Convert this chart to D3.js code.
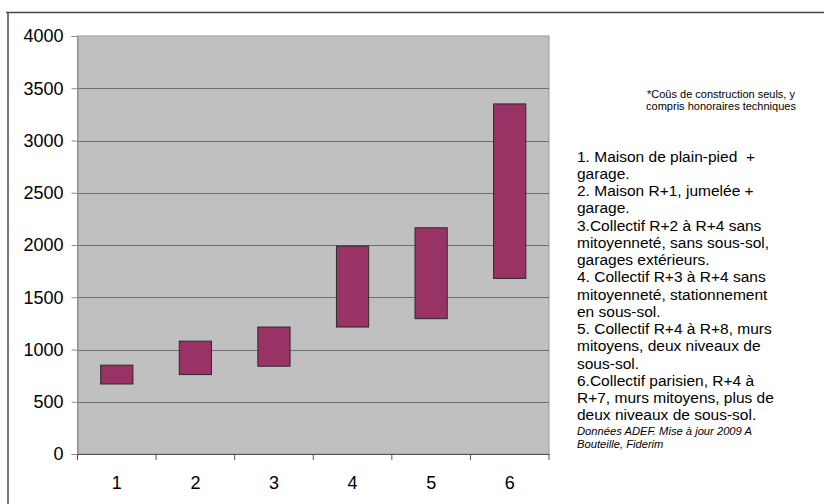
<!DOCTYPE html>
<meta charset="utf-8">
<style>
  body { margin: 0; background: #fff; }
  svg text { font-family: "Liberation Sans", Arial, sans-serif; fill: #000; white-space: pre; }
</style>
<div class="chart"></div>
<script src="https://cdn.jsdelivr.net/npm/d3@7"></script>
<script>
    // categories and cost ranges (low / high)
    var categories = ["1", "2", "3", "4", "5", "6"];
    var lowValues  = [670, 760, 840, 1215, 1295, 1680];
    var highValues = [850, 1080, 1215, 1990, 2165, 3350];
    var yTicks = [0, 500, 1000, 1500, 2000, 2500, 3000, 3500, 4000];

    var legendLines = [
        "1. Maison de plain-pied  +",
        "garage.",
        "2. Maison R+1, jumelée +",
        "garage.",
        "3.Collectif R+2 à R+4 sans",
        "mitoyenneté, sans sous-sol,",
        "garages extérieurs.",
        "4. Collectif R+3 à R+4 sans",
        "mitoyenneté, stationnement",
        "en sous-sol.",
        "5. Collectif R+4 à R+8, murs",
        "mitoyens, deux niveaux de",
        "sous-sol.",
        "6.Collectif parisien, R+4 à",
        "R+7, murs mitoyens, plus de",
        "deux niveaux de sous-sol."
    ];
    var noteLines = ["*Coûs de construction seuls, y", "compris honoraires techniques"];
    var sourceLines = ["Données ADEF. Mise à jour 2009 A", "Bouteille, Fiderim"];

    var data = categories.map((c, i) => ({cat: c, low: lowValues[i], high: highValues[i]}));

    var width = 824, height = 504;
    var plot = {left: 77.5, right: 549, top: 36, bottom: 454};

    var svg = d3.select(".chart").append("svg")
        .attr("width", width)
        .attr("height", height);

    var xScale = d3.scaleBand()
        .domain(categories)
        .range([plot.left, plot.right]);

    var yScale = d3.scaleLinear()
        .domain([0, 4000])
        .range([plot.bottom, plot.top]);

    // outer frame (top and left edges visible)
    svg.append("path")
        .attr("d", "M6,12.5H824M8,12.5V504")
        .attr("fill", "none")
        .attr("stroke", "#4a4a4a")
        .attr("stroke-width", 1.5);

    // plot background
    svg.append("rect")
        .attr("x", plot.left)
        .attr("y", plot.top)
        .attr("width", plot.right - plot.left)
        .attr("height", plot.bottom - plot.top)
        .attr("fill", "#c0c0c0")
        .attr("stroke", "#9a9a9a")
        .attr("stroke-width", 1);

    // gridlines
    svg.append("g")
        .selectAll("line")
        .data(yTicks.filter(d => d > 0 && d < 4000))
        .enter().append("line")
        .attr("x1", plot.left)
        .attr("x2", plot.right)
        .attr("y1", d => Math.round(yScale(d)) + 0.5)
        .attr("y2", d => Math.round(yScale(d)) + 0.5)
        .attr("stroke", "#6e6e6e")
        .attr("stroke-width", 1);

    // floating bars
    svg.append("g")
        .selectAll("rect")
        .data(data)
        .enter().append("rect")
        .attr("class", "cell")
        .attr("x", d => xScale(d.cat) + xScale.bandwidth() * 0.295)
        .attr("width", xScale.bandwidth() * 0.41)
        .attr("y", d => yScale(d.high))
        .attr("height", d => yScale(d.low) - yScale(d.high))
        .attr("fill", "#993366")
        .attr("stroke", "#2b2b2b")
        .attr("stroke-width", 1);

    // y axis
    var yAxis = d3.axisLeft(yScale)
        .tickValues(yTicks)
        .tickSize(6)
        .tickPadding(8)
        .tickFormat(d => d);

    var gy = svg.append("g")
        .attr("class", "y axis")
        .attr("transform", "translate(" + plot.left + ",0)")
        .call(yAxis);
    gy.select(".domain").attr("stroke", "#8a8a8a");
    gy.selectAll(".tick line").attr("stroke", "#8a8a8a");
    gy.selectAll("text")
        .attr("font-family", "Liberation Sans, Arial, sans-serif")
        .attr("font-size", 18)
        .attr("fill", "#000");

    // x axis
    var xAxis = d3.axisBottom(xScale)
        .tickSize(0)
        .tickPadding(22)
        .tickFormat(d => d);

    var gx = svg.append("g")
        .attr("class", "x axis")
        .attr("transform", "translate(0," + plot.bottom + ")")
        .call(xAxis);
    gx.select(".domain").attr("stroke", "#555");
    gx.selectAll("text")
        .attr("font-family", "Liberation Sans, Arial, sans-serif")
        .attr("font-size", 18)
        .attr("fill", "#000");

    // category boundary ticks below the axis
    var edges = categories.map(c => xScale(c)).concat([plot.right]);
    gx.selectAll(".edge")
        .data(edges)
        .enter().append("line")
        .attr("class", "edge")
        .attr("x1", d => d)
        .attr("x2", d => d)
        .attr("y1", 0)
        .attr("y2", 6)
        .attr("stroke", "#555");

    // footnote
    svg.append("text")
        .attr("text-anchor", "middle")
        .attr("font-size", 11)
        .selectAll("tspan")
        .data(noteLines)
        .enter().append("tspan")
        .attr("x", 721)
        .attr("y", (d, i) => 98 + i * 12)
        .text(d => d);

    // legend text
    svg.append("text")
        .attr("font-size", 15.5)
        .selectAll("tspan")
        .data(legendLines)
        .enter().append("tspan")
        .attr("x", 577)
        .attr("y", (d, i) => 161.5 + i * 17.25)
        .text(d => d);

    // source
    svg.append("text")
        .attr("font-size", 11.2)
        .attr("font-style", "italic")
        .selectAll("tspan")
        .data(sourceLines)
        .enter().append("tspan")
        .attr("x", 577)
        .attr("y", (d, i) => 435 + i * 12.5)
        .text(d => d);
</script>
